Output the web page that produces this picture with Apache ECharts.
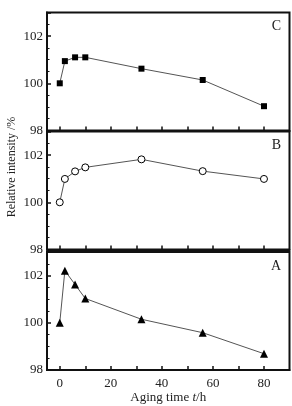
<!DOCTYPE html>
<html>
<head>
<meta charset="utf-8">
<script src="https://cdn.jsdelivr.net/npm/echarts@6/dist/echarts.min.js"></script>
<style>html,body{margin:0;padding:0;background:#fff}#c{width:292px;height:406px}</style>
</head>
<body>
<div id="c"></div>
<script>
// Data
var times = [0, 2, 6, 10, 32, 56, 80];
var seriesC = [100, 100.94, 101.1, 101.1, 100.62, 100.14, 99.03];
var seriesB = [100, 100.99, 101.31, 101.48, 101.82, 101.32, 100.99];
var seriesA = [100, 102.21, 101.62, 101.03, 100.15, 99.58, 98.69];
var xTickLabels = [0, 20, 40, 60, 80];
var xTicks = [0, 10, 20, 30, 40, 50, 60, 70, 80];
var yTickLabels = [98, 100, 102];
var panelNames = ['C', 'B', 'A'];

var FONT = 'Liberation Serif';
var panels = [
  {top: 12.5, data: seriesC, symbol: 'rect', fill: '#000', size: 6},
  {top: 131.5, data: seriesB, symbol: 'circle', fill: '#fff', size: 7},
  {top: 252, data: seriesA, symbol: 'triangle', fill: '#000', size: 8}
];
var H = 118;

function pairs(arr) { return times.map(function (t, i) { return [t, arr[i]]; }); }

var grids = [], xAxes = [], yAxes = [], series = [], titles = [];
panels.forEach(function (p, i) {
  grids.push({left: 47, right: 2.5, top: p.top, height: H, show: true, containLabel: false,
    outerBoundsMode: 'none',
    borderColor: '#111', borderWidth: 2, backgroundColor: 'transparent'});
  xAxes.push({type: 'value', gridIndex: i, min: -5, max: 90,
    axisLine: {show: true, onZero: false, lineStyle: {color: '#111', width: 2}},
    axisTick: {show: true, inside: true, length: 4, customValues: xTicks, lineStyle: {color: '#111', width: 1.5}},
    axisLabel: {show: i === 2, customValues: xTickLabels, fontFamily: FONT, fontSize: 13, color: '#222', margin: 7},
    splitLine: {show: false},
    name: i === 2 ? 'Aging time {i|t}/h' : '',
    nameLocation: 'middle', nameGap: 19,
    nameTextStyle: {fontFamily: FONT, fontSize: 13, color: '#222', rich: {i: {fontStyle: 'italic', fontFamily: FONT, fontSize: 13, color: '#222'}}}
  });
  yAxes.push({type: 'value', gridIndex: i, min: 98, max: 103, interval: 2,
    axisLine: {show: true, onZero: false, lineStyle: {color: '#111', width: 2}},
    axisTick: {show: true, inside: true, length: 4, lineStyle: {color: '#111', width: 1.5}},
    minorTick: {show: true, splitNumber: 4, length: 2.5, lineStyle: {color: '#111', width: 1}},
    axisLabel: {customValues: yTickLabels, fontFamily: FONT, fontSize: 13, color: '#222', margin: 4},
    splitLine: {show: false}
  });
  series.push({type: 'line', xAxisIndex: i, yAxisIndex: i, data: pairs(p.data),
    symbol: p.symbol, symbolSize: p.size, showAllSymbol: true,
    lineStyle: {color: '#555', width: 1},
    itemStyle: {color: p.fill, borderColor: '#000', borderWidth: p.fill === '#fff' ? 1 : 0},
    animation: false, z: 3});
  titles.push({text: panelNames[i], right: 6, top: p.top + 2,
    textStyle: {fontFamily: FONT, fontSize: 14, fontWeight: 'normal', color: '#222'}});
});

var chart = echarts.init(document.getElementById('c'), null, {renderer: 'canvas'});
chart.setOption({
  animation: false,
  backgroundColor: '#fff',
  title: titles,
  grid: grids,
  xAxis: xAxes,
  yAxis: yAxes,
  series: series,
  graphic: [{type: 'text', x: 12, y: 167, rotation: Math.PI / 2,
    style: {text: 'Relative intensity /%', fontFamily: FONT, fontSize: 12, fill: '#222',
      textAlign: 'center', textVerticalAlign: 'middle'}}]
});
</script>
</body>
</html>
